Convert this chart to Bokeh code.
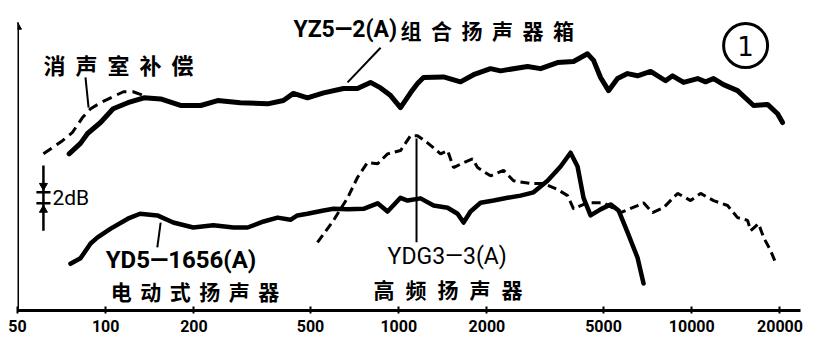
from bokeh.plotting import figure
from bokeh.models import Range1d, FixedTicker, CustomJSTickFormatter
from bokeh.core.properties import value
from bokeh.embed import file_html
from bokeh.resources import INLINE

# ---------------- data (frequency in Hz, relative level in dB) ----------------
box_f = [75, 82, 86.7, 96, 106, 119, 135, 154, 180, 211, 241, 288, 357, 404, 437, 488,
         554, 648, 723, 801, 867, 938, 1014, 1097, 1159, 1215, 1422, 1625, 1800, 2057,
         2225, 2752, 3048, 3483, 3949, 4409, 4623, 4884, 5200, 5580, 6038, 6531, 7236,
         8138, 8600, 9378, 10470, 11146, 11868, 12835, 14329, 16254, 18140, 19629, 20410]
box_db = [28.5, 30.4, 32.2, 34.2, 36.7, 37.8, 38.7, 38.5, 37.3, 37.3, 38.2, 37.8, 37.6, 38.2,
          39.5, 38.7, 39.6, 40.4, 40.4, 41.5, 40.5, 39.1, 36.9, 39.6, 41.3, 42.4, 42.5, 41.6,
          42.9, 44.0, 43.6, 44.4, 44.0, 45.1, 45.3, 46.7, 45.5, 42.4, 40.0, 42.2, 43.1, 42.7,
          43.5, 41.8, 42.7, 41.5, 42.2, 41.6, 42.2, 41.1, 40.0, 37.3, 37.5, 35.8, 34.2]

comp_f = [61.3, 71.2, 77, 83.3, 88.8, 96, 104, 115, 124, 135]
comp_db = [28.5, 30.9, 32.4, 35.1, 36.7, 37.8, 38.7, 39.8, 39.8, 39.1]

woofer_f = [75.8, 82, 88.8, 93.8, 104, 119, 131, 150, 170, 199, 233, 273, 305, 346, 386, 427,
            451, 488, 554, 599, 669, 758, 847, 916, 1014, 1072, 1187, 1315, 1468, 1588, 1664,
            1758, 1902, 2107, 2351, 2605, 2884, 3220, 3567, 3858, 4076, 4272, 4515, 4884,
            5284, 5626, 6038, 6531, 6846]
woofer_db = [8.5, 9.5, 12.2, 13.3, 14.9, 16.7, 17.6, 17.3, 16.0, 15.1, 15.5, 15.1, 15.1, 16.2,
             16.9, 16.5, 17.3, 17.6, 18.2, 18.5, 18.4, 18.5, 19.5, 18.0, 20.5, 20.0, 20.4, 19.1,
             18.7, 17.6, 16.0, 18.0, 19.6, 20.0, 20.5, 20.9, 21.5, 23.6, 26.2, 28.7, 26.2, 20.5,
             17.3, 18.4, 19.3, 18.2, 14.2, 9.6, 4.9]

tweeter_f = [528, 599, 669, 723, 782, 847, 916, 1014, 1097, 1159, 1254, 1389, 1468, 1538, 1664,
             1786, 1858, 2057, 2279, 2465, 2818, 3121, 3483, 3769, 3949, 4409, 5000, 5716, 6531,
             6846, 7348, 8011, 8943, 9909, 10720, 11868, 13250, 14329, 15505, 15880, 16906,
             17580, 18580, 19325]
tweeter_db = [12.4, 16.4, 20.5, 24.2, 26.9, 26.7, 28.5, 29.1, 31.8, 31.8, 30.5, 28.5, 29.1, 26.0,
              26.9, 27.6, 26.0, 24.5, 25.5, 23.6, 23.1, 23.1, 22.0, 20.9, 18.5, 19.6, 19.6, 17.8,
              19.1, 19.6, 17.8, 18.7, 21.3, 20.0, 21.3, 20.0, 19.1, 16.9, 16.4, 14.5, 15.8, 13.3,
              10.9, 8.7]

tick_values = [50, 100, 200, 500, 1000, 2000, 5000, 10000, 20000]

label_box_latin = "YZ5—2(A)"
label_box_cjk = "组合扬声器箱"
label_comp = "消声室补偿"
label_woofer_latin = "YD5—1656(A)"
label_woofer_cjk = "电动式扬声器"
label_tweeter_latin = "YDG3—3(A)"
label_tweeter_cjk = "高频扬声器"
label_scale = "2dB"
label_fig = "1"

# ---------------- figure ----------------
p = figure(width=828, height=351, x_axis_type="log",
           x_range=Range1d(50, 23500), y_range=Range1d(0, 56.4),
           y_axis_location=None, toolbar_location=None, output_backend="svg",
           min_border_left=17, min_border_right=28, min_border_top=0, min_border_bottom=41)
p.outline_line_color = None
p.grid.grid_line_color = None
p.background_fill_color = "white"
p.border_fill_color = "white"

ax = p.xaxis[0]
ax.ticker = FixedTicker(ticks=tick_values)
ax.formatter = CustomJSTickFormatter(code="return String(Math.round(tick));")
ax.axis_line_width = 3
ax.axis_line_color = "black"
ax.major_tick_in = 4
ax.major_tick_out = 3
ax.major_tick_line_width = 2
ax.minor_tick_line_color = None
ax.major_label_standoff = 6
ax.major_label_text_font = "Roboto"
ax.major_label_text_font_style = "bold"
ax.major_label_text_font_size = "16px"
ax.major_label_text_color = "black"

# y axis line with arrow
p.segment(x0=[50], y0=[0], x1=[50], y1=[52.4], line_color="black", line_width=3)
p.scatter([50], [51.6], marker="triangle", size=8, color="black")

# curves
p.line(box_f, box_db, line_width=5, color="black", line_join="round", line_cap="round")
p.line(comp_f, comp_db, line_width=3, color="black", line_dash="10 6")
p.line(woofer_f, woofer_db, line_width=4.5, color="black", line_join="round", line_cap="round")
p.line(tweeter_f, tweeter_db, line_width=3, color="black", line_dash="9 5")

# pointer lines
p.segment(x0=[85.3, 867, 154, 1150], y0=[42.4, 47.8, 16.0, 31.3],
          x1=[87.4, 669, 150, 1150], y1=[36.9, 41.5, 11.5, 12.4],
          line_color="black", line_width=2)

# 2 dB scale marker
p.segment(x0=[61.3, 58, 58], y0=[26.4, 21.5, 19.5], x1=[61.3, 64.8, 64.8], y1=[14.5, 21.5, 19.5],
          line_color="black", line_width=2.5)
p.scatter([61.3], [22.7], marker="inverted_triangle", size=8, color="black")
p.scatter([61.3], [18.3], marker="triangle", size=8, color="black")

latin_font = value("Roboto")
cjk_font = value("Noto Sans CJK SC")


def latin(x, y, s, size="24px", style="bold"):
    p.text([x], [y], text=[s], text_font=latin_font, text_font_size=size,
           text_font_style=style, text_baseline="middle", text_align="left", text_color="black")


def cjk(x, y, s, pitch, size="21px"):
    n = len(s)
    p.text([x] * n, [y] * n, text=list(s), x_offset=[i * pitch for i in range(n)],
           text_font=cjk_font, text_font_size=size, text_font_style="bold",
           text_baseline="middle", text_align="left", text_color="black")


latin(437, 51.1, label_box_latin, size="23px", style="bold")
cjk(1014, 51.1, label_box_cjk, 30.5)
cjk(61.3, 44.9, label_comp, 32, size="22px")
latin(100, 9.1, label_woofer_latin, size="24px", style="bold")
cjk(104, 3.6, label_woofer_cjk, 29.5)
latin(916, 9.8, label_tweeter_latin, size="23px", style="normal")
cjk(820, 4.0, label_tweeter_cjk, 32)
latin(65.8, 20.5, label_scale, size="21px", style="normal")

# figure number in circle
p.scatter([15265], [48.2], marker="circle", size=44, fill_color=None, line_color="black", line_width=3)
p.text([15265], [48.2], text=[label_fig], text_font=value("DejaVu Sans"), text_font_size="26px",
       text_baseline="middle", text_align="center", text_color="black")

open("out.html", "w").write(file_html(p, INLINE))
